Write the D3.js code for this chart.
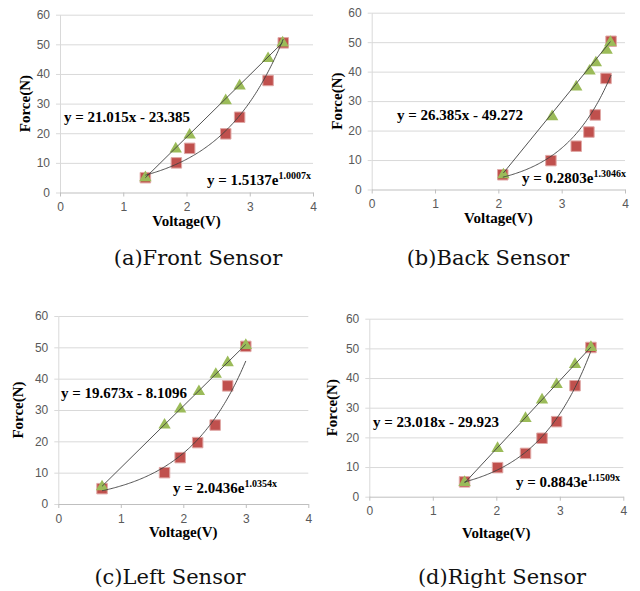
<!DOCTYPE html>
<html>
<head>
<meta charset="utf-8">
<script src="https://cdn.jsdelivr.net/npm/d3@7"></script>
<style>
  body { margin: 0; background: #fff; }
  svg { display: block; }
</style>
</head>
<body>
<div class="chart"></div>
<script>
// tick values shared by all four panels
var xTicks = [0, 1, 2, 3, 4];
var yTicks = [0, 10, 20, 30, 40, 50, 60];

// (a) front sensor
var frontTriV = [1.35, 1.83, 2.05, 2.62, 2.84, 3.29, 3.52];
var frontTriF = [5, 14.7, 19.4, 31, 36, 45.2, 50.5];
var frontSqV = [1.35, 1.84, 2.05, 2.62, 2.84, 3.29, 3.53];
var frontSqF = [5, 10, 14.9, 19.8, 25.4, 37.8, 50.5];

// (b) back sensor
var backTriV = [2.08, 2.85, 3.23, 3.44, 3.54, 3.71, 3.77];
var backTriF = [5, 24.7, 34.8, 40.2, 43, 47.3, 49.9];
var backSqV = [2.07, 2.83, 3.23, 3.43, 3.53, 3.70, 3.78];
var backSqF = [5, 9.8, 14.7, 19.5, 25.3, 37.7, 50.3];

// (c) left sensor
var leftTriV = [0.70, 1.70, 1.95, 2.25, 2.52, 2.71, 3.0];
var leftTriF = [5.5, 25.2, 30.3, 35.9, 41.4, 45.1, 50.6];
var leftSqV = [0.70, 1.70, 1.95, 2.23, 2.51, 2.71, 3.0];
var leftSqF = [4.9, 10, 14.8, 19.6, 25.2, 37.7, 50.3];

// (d) right sensor
var rightTriV = [1.50, 2.02, 2.46, 2.72, 2.95, 3.24, 3.49];
var rightTriF = [4.8, 16.3, 26.4, 32.6, 37.8, 44.6, 50.3];
var rightSqV = [1.50, 2.02, 2.46, 2.72, 2.95, 3.24, 3.49];
var rightSqF = [5, 9.8, 14.6, 19.7, 25.3, 37.4, 50.3];

// trendline coefficients (linear: slope, intercept / exponential: a, b)
var linSlope = [21.015, 26.385, 19.673, 23.018];
var linIcept = [-23.385, -49.272, -8.1096, -29.923];
var linText = ["y = 21.015x - 23.385", "y = 26.385x - 49.272", "y = 19.673x - 8.1096", "y = 23.018x - 29.923"];
var expA = [1.5137, 0.2803, 2.0436, 0.8843];
var expB = [1.0007, 1.3046, 1.0354, 1.1509];
var expText = ["y = 1.5137e", "y = 0.2803e", "y = 2.0436e", "y = 0.8843e"];
var expPow = ["1.0007x", "1.3046x", "1.0354x", "1.1509x"];

var captions = ["(a)Front Sensor", "(b)Back Sensor", "(c)Left Sensor", "(d)Right Sensor"];

var zip = (a, b) => a.map((v, i) => ({ v: v, f: b[i] }));

// layout of each panel on the page
var panels = [
  { left: 60, right: 313, top: 14.7, bottom: 192.5, tri: zip(frontTriV, frontTriF), sq: zip(frontSqV, frontSqF),
    lin: [64, 122], exp: [207, 185], forceX: 25, voltY: 226, capX: 198, capY: 265 },
  { left: 371.7, right: 625, top: 12.7, bottom: 189.5, tri: zip(backTriV, backTriF), sq: zip(backSqV, backSqF),
    lin: [397, 120], exp: [522, 183], forceX: 337, voltY: 223, capX: 488, capY: 265 },
  { left: 58.3, right: 308.3, top: 316, bottom: 504, tri: zip(leftTriV, leftTriF), sq: zip(leftSqV, leftSqF),
    lin: [61, 398], exp: [173, 493], forceX: 18, voltY: 537, capX: 170, capY: 584 },
  { left: 369.3, right: 623.3, top: 318.7, bottom: 496.7, tri: zip(rightTriV, rightTriF), sq: zip(rightSqV, rightSqF),
    lin: [373, 427], exp: [516, 487], forceX: 332, voltY: 538, capX: 502, capY: 584 }
];

var svg = d3.select(".chart")
  .append("svg")
  .attr("width", 640)
  .attr("height", 591);

var tickFont = "Liberation Sans, Arial, sans-serif";
var eqFont = "Liberation Serif, Times New Roman, serif";

panels.forEach(function (p, i) {
  var x = d3.scaleLinear().domain([0, 4]).range([p.left, p.right]);
  var y = d3.scaleLinear().domain([0, 60]).range([p.bottom, p.top]);
  var g = svg.append("g");

  // horizontal gridlines
  g.append("g")
    .attr("transform", `translate(${p.left},0)`)
    .call(d3.axisLeft(y).tickValues(yTicks.slice(1)).tickSize(-(p.right - p.left)).tickFormat(""))
    .call(s => s.select(".domain").remove())
    .call(s => s.selectAll("line").attr("stroke", "#d9d9d9"));

  // y axis
  g.append("g")
    .attr("transform", `translate(${p.left},0)`)
    .call(d3.axisLeft(y).tickValues(yTicks).tickFormat(d3.format("d")).tickSize(4).tickSizeOuter(0).tickPadding(6))
    .call(s => s.select(".domain").attr("stroke", "#d9d9d9"))
    .call(s => s.selectAll("line").attr("stroke", "#d9d9d9"))
    .call(s => s.selectAll("text").attr("fill", "#595959")
      .style("font-family", tickFont).style("font-size", "12px"));

  // x axis
  g.append("g")
    .attr("transform", `translate(0,${p.bottom})`)
    .call(d3.axisBottom(x).tickValues(xTicks).tickFormat(d3.format("d")).tickSize(4).tickSizeOuter(0).tickPadding(6))
    .call(s => s.select(".domain").attr("stroke", "#bfbfbf"))
    .call(s => s.selectAll("line").attr("stroke", "#bfbfbf"))
    .call(s => s.selectAll("text").attr("fill", "#595959")
      .style("font-family", tickFont).style("font-size", "12px"));

  // markers: squares first, triangles on top
  g.selectAll(".sq")
    .data(p.sq)
    .enter()
    .append("path")
    .attr("d", d3.symbol(d3.symbolSquare, 110))
    .attr("transform", d => `translate(${x(d.v)},${y(d.f)})`)
    .attr("fill", "#c0504d")
    .attr("stroke", "#e0a8a6")
    .attr("stroke-width", 1);

  g.selectAll(".tri")
    .data(p.tri)
    .enter()
    .append("path")
    .attr("d", d3.symbol(d3.symbolTriangle, 66))
    .attr("transform", d => `translate(${x(d.v)},${y(d.f)})`)
    .attr("fill", "#9bbb59");

  // trendlines
  var line = d3.line().x(d => x(d[0])).y(d => y(d[1]));
  var tx = d3.extent(p.tri, d => d.v);
  g.append("path")
    .attr("d", line(tx.map(v => [v, linSlope[i] * v + linIcept[i]])))
    .attr("fill", "none")
    .attr("stroke", "#404040")
    .attr("stroke-width", 0.9);

  var sx = d3.extent(p.sq, d => d.v);
  var pts = d3.range(sx[0], sx[1], 0.02).concat([sx[1]]).map(v => [v, expA[i] * Math.exp(expB[i] * v)]);
  g.append("path")
    .attr("d", line(pts))
    .attr("fill", "none")
    .attr("stroke", "#404040")
    .attr("stroke-width", 0.9);

  // equation labels
  g.append("text")
    .attr("x", p.lin[0])
    .attr("y", p.lin[1])
    .style("font-family", eqFont)
    .style("font-weight", "bold")
    .style("font-size", "15px")
    .text(linText[i]);

  var et = g.append("text")
    .attr("x", p.exp[0])
    .attr("y", p.exp[1])
    .style("font-family", eqFont)
    .style("font-weight", "bold")
    .style("font-size", "15px")
    .text(expText[i]);
  et.append("tspan")
    .attr("dy", -6)
    .style("font-size", "10px")
    .text(expPow[i]);

  // axis titles
  g.append("text")
    .attr("transform", `translate(${p.forceX},${(p.top + p.bottom) / 2}) rotate(-90)`)
    .attr("text-anchor", "middle")
    .attr("dy", "0.35em")
    .style("font-family", eqFont)
    .style("font-weight", "bold")
    .style("font-size", "15px")
    .text("Force(N)");

  g.append("text")
    .attr("x", (p.left + p.right) / 2)
    .attr("y", p.voltY)
    .attr("text-anchor", "middle")
    .style("font-family", eqFont)
    .style("font-weight", "bold")
    .style("font-size", "15px")
    .text("Voltage(V)");

  // caption under the panel
  svg.append("text")
    .attr("x", p.capX)
    .attr("y", p.capY)
    .attr("text-anchor", "middle")
    .style("font-family", "DejaVu Serif, serif")
    .style("font-size", "21px")
    .attr("fill", "#111")
    .text(captions[i]);
});
</script>
</body>
</html>
